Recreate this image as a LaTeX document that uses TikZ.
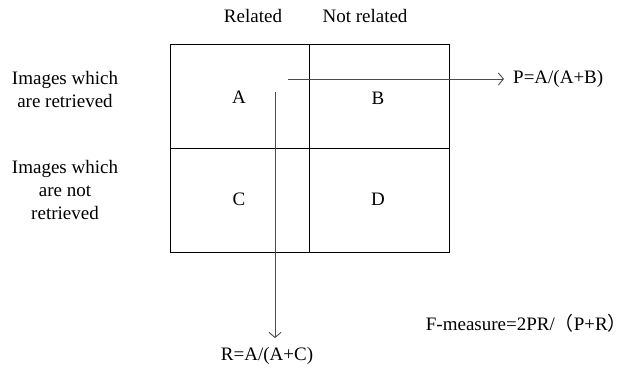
\documentclass[tikz,border=0pt]{standalone}
\usepackage{fontspec}
\setmainfont{Liberation Serif}
\newfontfamily\cjk{Noto Sans CJK SC}
\usetikzlibrary{arrows.meta}
\begin{document}
\begin{tikzpicture}[x=1pt,y=-1pt,
  lbl/.style={inner sep=0pt,font=\fontsize{19}{23}\selectfont,align=center},
  cell/.style={draw=black,line width=0.9pt},
  conn/.style={draw=black!70,line width=0.9pt,-{Straight Barb[length=5pt,width=12pt]}}]
\useasboundingbox (0,0) rectangle (629,378);
% grid
\draw[cell] (170,44) rectangle (449,252);
\draw[cell] (170,148) -- (449,148);
\draw[cell] (309,44) -- (309,252);
% headers
\node[lbl] (rel) at (253,16) {Related};
\node[lbl] (nrel) at (365,16) {Not related};
\node[lbl] (ret) at (65,89) {Images which\\are retrieved};
\node[lbl] (nret) at (65,190) {Images which\\are not\\retrieved};
% cells
\node[lbl] (A) at (239,97) {A};
\node[lbl] (B) at (378,98) {B};
\node[lbl] (C) at (239,199) {C};
\node[lbl] (D) at (378,199) {D};
% outputs
\node[lbl,anchor=west] (P) at (513,79) {P=A/(A+B)};
\node[lbl] (R) at (267,356) {R=A/(A+C)};
\node[lbl,anchor=east] (F) at (627,323) {F-measure=2PR/{\cjk（}P+R{\cjk）}};
\coordinate (ps) at (288,79);
\coordinate (rs) at (275,92);
\coordinate (re) at (275,338);
\draw[conn,shorten >=9pt] (ps) -- (P.west);
\draw[conn] (rs) -- (re);
\end{tikzpicture}
\end{document}
